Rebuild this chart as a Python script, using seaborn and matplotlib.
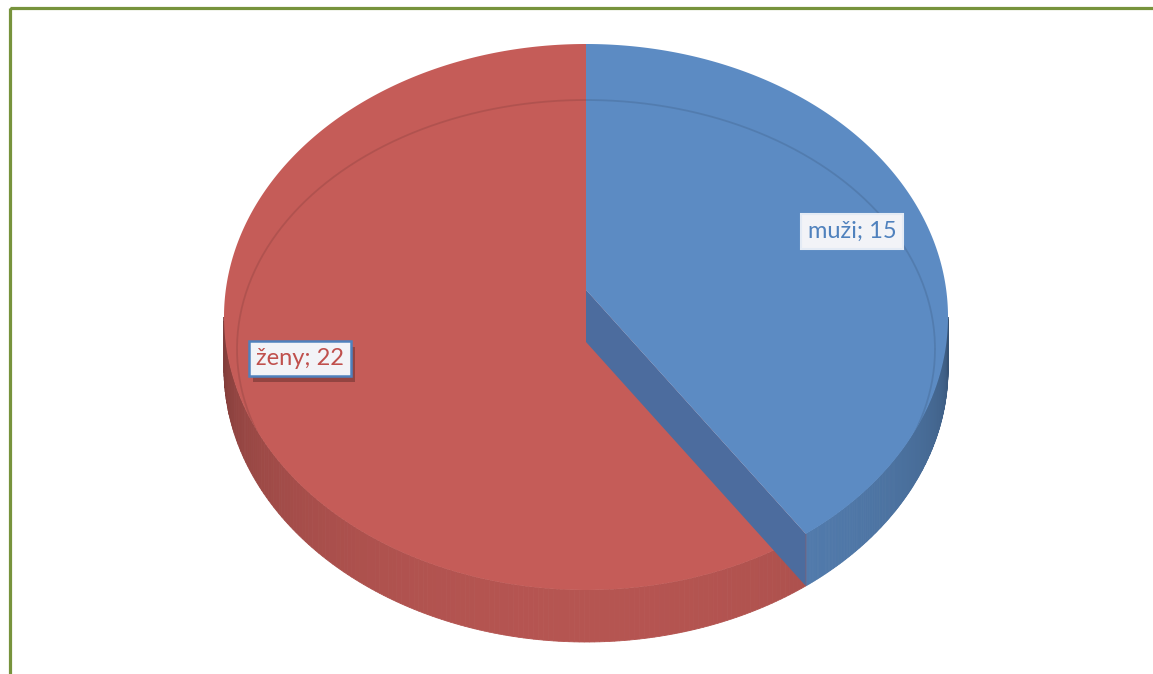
import numpy as np
import matplotlib
matplotlib.use("Agg")
import matplotlib.pyplot as plt
import matplotlib.patheffects as pe
import seaborn as sns
from matplotlib.patches import Rectangle, Polygon
from matplotlib.colors import to_rgb

# ---- data ----
categories = ["muži", "ženy"]
values = [15, 22]
top_colors = ["#5C8BC3", "#C55C58"]
label_colors = ["#4F81BD", "#C0504D"]
labels = [f"{c}; {v}" for c, v in zip(categories, values)]

sns.set_theme(style="white")
plt.rcParams['font.family'] = ['Lato', 'DejaVu Sans']

W, H = 1153, 674
fig = plt.figure(figsize=(W / 100, H / 100), dpi=100)
ax = fig.add_axes([0, 0, 1, 1])
ax.set_xlim(0, W)
ax.set_ylim(H, 0)
ax.axis('off')

# geometry of the 3D disc (pixel-like axes units)
CX, CY, A, B = 586, 317, 362, 273
T = 0.099     # perspective shift
D = 52        # thickness
S = np.sqrt(1 - T * T)


def proj(theta_deg, r=1.0):
    th = np.radians(theta_deg)
    u = r * np.cos(th)
    v = r * np.sin(th)
    den = 1 + T * v
    mu = u * S / den
    mv = (v + T) / den
    return CX + A * mu, CY - B * mv


def mapped_angle(theta_deg):
    th = np.radians(theta_deg)
    u, v = np.cos(th), np.sin(th)
    den = 1 + T * v
    return np.degrees(np.arctan2((v + T) / den, u * S / den))


total = sum(values)
starts, ends = [], []
a0 = 90.0
for v in values:
    starts.append(a0)
    a0 = a0 - 360.0 * v / total
    ends.append(a0)

# ---- side walls ----
psi_b = mapped_angle(ends[0]) % 360  # boundary between slices on the wall
wall_ranges = [(psi_b, 360.0), (180.0, psi_b)]  # blue, red
for (p0, p1), col in zip(wall_ranges, top_colors):
    base = np.array(to_rgb(col))
    ps = np.linspace(p0, p1, 160)
    for i in range(len(ps) - 1):
        pa, pb = np.radians(ps[i]), np.radians(ps[i + 1])
        xa, ya = CX + A * np.cos(pa), CY - B * np.sin(pa)
        xb, yb = CX + A * np.cos(pb), CY - B * np.sin(pb)
        pm = (ps[i] + ps[i + 1]) / 2
        s = max(np.sin(np.radians(pm - 180)), 0)
        shade = 0.58 + 0.34 * s ** 0.55
        c = np.clip(base * shade, 0, 1)
        ax.add_patch(Polygon([(xa, ya), (xb, yb), (xb, yb + D), (xa, ya + D)],
                             closed=True, fc=c, ec=c, lw=0.6, zorder=1))

# ---- top faces ----
cx0, cy0 = proj(0, 0.0)
top_polys = []
for st, en, col in zip(starts, ends, top_colors):
    th = np.linspace(st, en, 300)
    xs, ys = proj(th)
    pts = [(cx0, cy0)] + list(zip(xs, ys))
    top_polys.append(pts)

# red top (drawn first)
ax.add_patch(Polygon(top_polys[1], closed=True, fc=top_colors[1], ec='none', zorder=2))

# radial face of blue slice
bx, by = proj(ends[0])
ax.add_patch(Polygon([(cx0, cy0), (bx, by), (bx, by + D), (cx0, cy0 + D)],
                     closed=True, fc="#4C6C9E", ec='none', zorder=3))

# blue top
ax.add_patch(Polygon(top_polys[0], closed=True, fc=top_colors[0], ec='none', zorder=4))

# faint bevel line on the top face
th_all = np.linspace(0, 360, 400)
rx, ry = proj(th_all)
clip = Polygon(list(zip(rx, ry)), closed=True, transform=ax.transData, fc='none', ec='none')
ax.add_patch(clip)
ang = np.radians(np.linspace(0, 360, 400))
line, = ax.plot(586 + 349 * np.cos(ang), 349 + 249 * np.sin(ang),
                color=(0, 0, 0, 0.10), lw=1.3, zorder=5)
line.set_clip_path(clip)

# ---- labels ----
label_r = [0.79, 0.81]
label_dy = [3, 3]
for i, (st, en) in enumerate(zip(starts, ends)):
    mid = (st + en) / 2
    lx, ly = proj(mid, label_r[i])
    ly += label_dy[i]
    if i == 1:
        ec, elw = "#4F81BD", 1.8
    else:
        ec, elw = "#E4EBF5", 1.5
    t = ax.text(lx, ly, labels[i], ha='center', va='center', fontsize=17,
                color=label_colors[i], zorder=7,
                bbox=dict(boxstyle='square,pad=0.3', fc='#F2F3F7', ec=ec, lw=elw))
    if i == 1:
        t.get_bbox_patch().set_path_effects(
            [pe.SimplePatchShadow(offset=(3, -4), shadow_rgbFace='black', alpha=0.25),
             pe.Normal()])

# ---- outer green frame ----
ax.add_patch(Rectangle((10, 8), 1300, 800, fill=False, ec='#77933C', lw=2.3,
                       clip_on=False, zorder=10))

fig.savefig("out.png", dpi=100)
